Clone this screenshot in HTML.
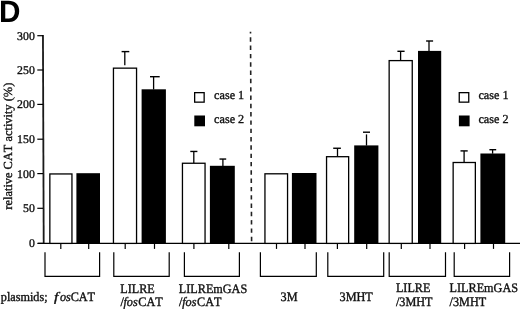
<!DOCTYPE html><html><head><meta charset="utf-8"><style>html,body{margin:0;padding:0;background:#fff;width:520px;height:310px;overflow:hidden}svg{display:block;text-rendering:geometricPrecision;filter:grayscale(1)}text{font-kerning:none;font-family:"Liberation Serif",serif;fill:#111;stroke:#111;stroke-width:0.35px}</style></head><body>
<svg width="520" height="310" viewBox="0 0 520 310">
<rect width="520" height="310" fill="#fff"/>
<text transform="translate(-1.0,22.3) scale(0.961,1)" style="font-family:'Liberation Sans',sans-serif;font-weight:bold;font-size:30.9px;fill:#000;stroke:none">D</text>
<line x1="42.95" y1="35.1" x2="43.7" y2="244.0" stroke="#1a1a1a" stroke-width="1.8"/>
<line x1="37.3" y1="35.7" x2="43.0" y2="35.7" stroke="#000" stroke-width="1.2"/>
<line x1="37.3" y1="70.0" x2="43.0" y2="70.0" stroke="#000" stroke-width="1.2"/>
<line x1="37.3" y1="104.4" x2="43.0" y2="104.4" stroke="#000" stroke-width="1.2"/>
<line x1="37.3" y1="139.2" x2="43.0" y2="139.2" stroke="#000" stroke-width="1.2"/>
<line x1="37.3" y1="173.6" x2="43.0" y2="173.6" stroke="#000" stroke-width="1.2"/>
<line x1="37.3" y1="208.3" x2="43.0" y2="208.3" stroke="#000" stroke-width="1.2"/>
<line x1="37.3" y1="243.4" x2="43.0" y2="243.4" stroke="#000" stroke-width="1.2"/>
<line x1="38" y1="243.4" x2="520" y2="243.4" stroke="#000" stroke-width="1.4"/>
<line x1="60.8" y1="243.4" x2="60.8" y2="248.9" stroke="#000" stroke-width="1.2"/>
<line x1="88.7" y1="243.4" x2="88.7" y2="248.9" stroke="#000" stroke-width="1.2"/>
<line x1="125.2" y1="243.4" x2="125.2" y2="248.9" stroke="#000" stroke-width="1.2"/>
<line x1="154.5" y1="243.4" x2="154.5" y2="248.9" stroke="#000" stroke-width="1.2"/>
<line x1="193.9" y1="243.4" x2="193.9" y2="248.9" stroke="#000" stroke-width="1.2"/>
<line x1="228.8" y1="243.4" x2="228.8" y2="248.9" stroke="#000" stroke-width="1.2"/>
<line x1="276.5" y1="243.4" x2="276.5" y2="248.9" stroke="#000" stroke-width="1.2"/>
<line x1="305.0" y1="243.4" x2="305.0" y2="248.9" stroke="#000" stroke-width="1.2"/>
<line x1="337.4" y1="243.4" x2="337.4" y2="248.9" stroke="#000" stroke-width="1.2"/>
<line x1="366.7" y1="243.4" x2="366.7" y2="248.9" stroke="#000" stroke-width="1.2"/>
<line x1="401.3" y1="243.4" x2="401.3" y2="248.9" stroke="#000" stroke-width="1.2"/>
<line x1="430.0" y1="243.4" x2="430.0" y2="248.9" stroke="#000" stroke-width="1.2"/>
<line x1="464.6" y1="243.4" x2="464.6" y2="248.9" stroke="#000" stroke-width="1.2"/>
<line x1="493.5" y1="243.4" x2="493.5" y2="248.9" stroke="#000" stroke-width="1.2"/>
<line x1="124.8" y1="51.6" x2="124.8" y2="65.3" stroke="#000" stroke-width="1.3"/>
<line x1="121.6" y1="51.6" x2="129.3" y2="51.6" stroke="#000" stroke-width="1.4"/>
<line x1="153.6" y1="76.7" x2="153.6" y2="89.5" stroke="#000" stroke-width="1.3"/>
<line x1="150.0" y1="76.7" x2="159.7" y2="76.7" stroke="#000" stroke-width="1.4"/>
<line x1="193.8" y1="151.45" x2="193.8" y2="163.0" stroke="#000" stroke-width="1.3"/>
<line x1="190.3" y1="151.45" x2="197.4" y2="151.45" stroke="#000" stroke-width="1.4"/>
<line x1="222.9" y1="159.05" x2="222.9" y2="166.0" stroke="#000" stroke-width="1.3"/>
<line x1="219.5" y1="159.05" x2="226.2" y2="159.05" stroke="#000" stroke-width="1.4"/>
<line x1="337.5" y1="148.25" x2="337.5" y2="156.5" stroke="#000" stroke-width="1.3"/>
<line x1="333.2" y1="148.25" x2="340.9" y2="148.25" stroke="#000" stroke-width="1.4"/>
<line x1="366.5" y1="134.4" x2="366.5" y2="145.6" stroke="#000" stroke-width="1.3"/>
<line x1="363.0" y1="132.2" x2="370.0" y2="132.2" stroke="#000" stroke-width="1.4"/>
<line x1="400.6" y1="51.3" x2="400.6" y2="60.4" stroke="#000" stroke-width="1.3"/>
<line x1="397.4" y1="51.3" x2="404.6" y2="51.3" stroke="#000" stroke-width="1.4"/>
<line x1="429.0" y1="41.0" x2="429.0" y2="51.1" stroke="#000" stroke-width="1.3"/>
<line x1="426.1" y1="41.0" x2="433.1" y2="41.0" stroke="#000" stroke-width="1.4"/>
<line x1="464.1" y1="150.9" x2="464.1" y2="162.3" stroke="#000" stroke-width="1.3"/>
<line x1="460.5" y1="150.9" x2="467.7" y2="150.9" stroke="#000" stroke-width="1.4"/>
<line x1="492.6" y1="149.7" x2="492.6" y2="153.7" stroke="#000" stroke-width="1.3"/>
<line x1="489.4" y1="149.7" x2="496.2" y2="149.7" stroke="#000" stroke-width="1.4"/>
<rect x="49.85" y="173.95" width="22.10" height="69.45" fill="#fff" stroke="#000" stroke-width="1.3"/>
<rect x="76.4" y="173.2" width="23.60" height="70.20" fill="#000"/>
<rect x="113.45" y="68.15" width="23.10" height="175.25" fill="#fff" stroke="#000" stroke-width="1.3"/>
<rect x="141.6" y="89.3" width="24.30" height="154.10" fill="#000"/>
<rect x="182.45" y="163.25" width="22.60" height="80.15" fill="#fff" stroke="#000" stroke-width="1.3"/>
<rect x="209.9" y="165.8" width="24.90" height="77.60" fill="#000"/>
<rect x="264.95" y="173.8" width="22.60" height="69.60" fill="#fff" stroke="#000" stroke-width="1.3"/>
<rect x="291.9" y="173.0" width="24.60" height="70.40" fill="#000"/>
<rect x="326.55" y="156.7" width="22.10" height="86.70" fill="#fff" stroke="#000" stroke-width="1.3"/>
<rect x="354.2" y="145.4" width="24.20" height="98.00" fill="#000"/>
<rect x="389.15" y="60.6" width="23.10" height="182.80" fill="#fff" stroke="#000" stroke-width="1.3"/>
<rect x="418.0" y="50.9" width="23.20" height="192.50" fill="#000"/>
<rect x="453.15" y="162.5" width="22.20" height="80.90" fill="#fff" stroke="#000" stroke-width="1.3"/>
<rect x="480.4" y="153.5" width="24.80" height="89.90" fill="#000"/>
<line x1="250.5" y1="31.7" x2="251.6" y2="241.2" stroke="#222" stroke-width="1.6" stroke-dasharray="4.4 3.91" stroke-dashoffset="2.7"/>
<polyline points="45,252.2 45,276.4 99.6,276.4 99.6,252.2" fill="none" stroke="#000" stroke-width="1.2"/>
<polyline points="113.8,252.2 113.8,276.4 169.2,276.4 169.2,252.2" fill="none" stroke="#000" stroke-width="1.2"/>
<polyline points="184.4,252.2 184.4,276.4 239.4,276.4 239.4,252.2" fill="none" stroke="#000" stroke-width="1.2"/>
<polyline points="260.4,252.2 260.4,276.4 316.3,276.4 316.3,252.2" fill="none" stroke="#000" stroke-width="1.2"/>
<polyline points="327.8,252.2 327.8,276.4 383.7,276.4 383.7,252.2" fill="none" stroke="#000" stroke-width="1.2"/>
<polyline points="389.2,252.2 389.2,276.4 445.5,276.4 445.5,252.2" fill="none" stroke="#000" stroke-width="1.2"/>
<polyline points="454.2,252.2 454.2,276.4 509.6,276.4 509.6,252.2" fill="none" stroke="#000" stroke-width="1.2"/>
<rect x="194.65" y="92.65" width="9.5" height="9.5" fill="#fff" stroke="#000" stroke-width="1.3"/>
<rect x="194.3" y="115.5" width="10.7" height="10.8" fill="#000"/>
<rect x="459.25" y="92.65" width="9.5" height="9.5" fill="#fff" stroke="#000" stroke-width="1.3"/>
<rect x="458.90000000000003" y="115.5" width="10.7" height="10.8" fill="#000"/>
<text transform="translate(34.8,39.6) scale(1,1.0)" font-size="11.8" text-anchor="end" >300</text>
<text transform="translate(34.8,73.9) scale(1,1.0)" font-size="11.8" text-anchor="end" >250</text>
<text transform="translate(34.8,108.30000000000001) scale(1,1.0)" font-size="11.8" text-anchor="end" >200</text>
<text transform="translate(34.8,143.1) scale(1,1.0)" font-size="11.8" text-anchor="end" >150</text>
<text transform="translate(34.8,177.5) scale(1,1.0)" font-size="11.8" text-anchor="end" >100</text>
<text transform="translate(34.8,212.20000000000002) scale(1,1.0)" font-size="11.8" text-anchor="end" >50</text>
<text transform="translate(34.8,247.3) scale(1,1.0)" font-size="11.8" text-anchor="end" >0</text>
<text transform="translate(214.1,99.2) scale(1,1.0)" font-size="12.2" text-anchor="start" >case 1</text>
<text transform="translate(214.1,123.2) scale(1,1.0)" font-size="12.2" text-anchor="start" >case 2</text>
<text transform="translate(478.40000000000003,99.2) scale(1,1.0)" font-size="12.2" text-anchor="start" >case 1</text>
<text transform="translate(478.40000000000003,123.2) scale(1,1.0)" font-size="12.2" text-anchor="start" >case 2</text>
<text transform="translate(11.9,146.15) rotate(-90)" font-size="12.4" text-anchor="middle">relative CAT activity (%)</text>
<text transform="translate(0.8,301.2) scale(1,1.06)" font-size="12.2" text-anchor="start" >plasmids;</text>
<text transform="translate(53.9,301.2) scale(1.3,1.06)" font-size="12.2" font-style="italic">f</text>
<text transform="translate(60.0,301.2) scale(1,1.06)" font-size="12.2" text-anchor="start" ><tspan font-style="italic">os</tspan><tspan dx="-0.2">CAT</tspan></text>
<text transform="translate(120.2,292.9) scale(1,1.06)" font-size="12.2" text-anchor="start" >LILRE</text>
<text transform="translate(120.4,306.3) scale(1,1.06)" font-size="12.2" text-anchor="start" ><tspan>/</tspan><tspan font-style="italic" dx="-0.3">fos</tspan><tspan dx="0.6">CAT</tspan></text>
<text transform="translate(178.8,292.5) scale(1,1.06)" font-size="12.2" text-anchor="start" >LILREmGAS</text>
<text transform="translate(179.1,305.9) scale(1,1.06)" font-size="12.2" text-anchor="start" ><tspan>/</tspan><tspan font-style="italic" dx="-0.3">fos</tspan><tspan dx="0.6">CAT</tspan></text>
<text transform="translate(280.6,300.8) scale(1,1.06)" font-size="12.2" text-anchor="start" >3M</text>
<text transform="translate(339.6,300.8) scale(1,1.06)" font-size="12.2" text-anchor="start" >3MHT</text>
<text transform="translate(395.9,292.2) scale(1,1.06)" font-size="12.2" text-anchor="start" >LILRE</text>
<text transform="translate(395.9,305.8) scale(1,1.06)" font-size="12.2" text-anchor="start" >/3MHT</text>
<text transform="translate(449.6,292.2) scale(1,1.06)" font-size="12.2" text-anchor="start" >LILREmGAS</text>
<text transform="translate(449.6,305.8) scale(1,1.06)" font-size="12.2" text-anchor="start" >/3MHT</text>
</svg></body></html>
